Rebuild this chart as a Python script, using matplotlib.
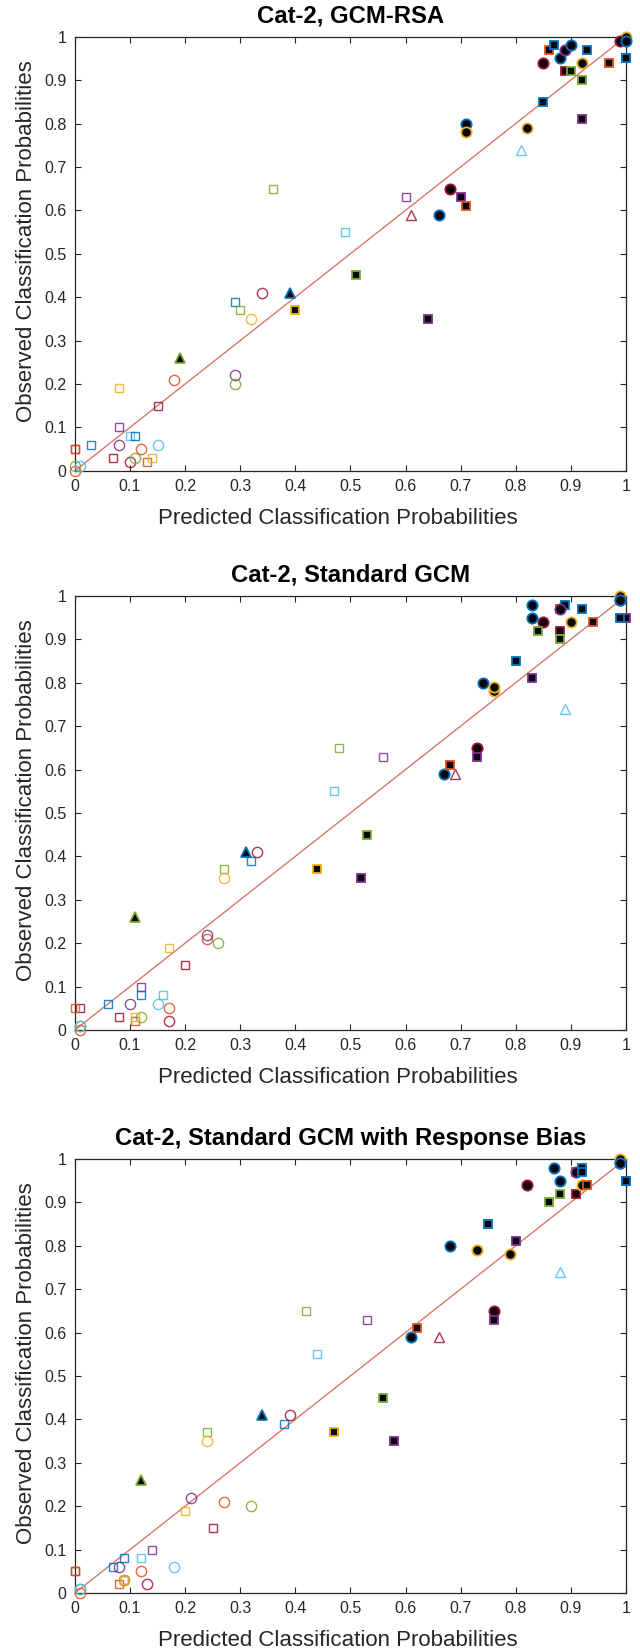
import matplotlib
matplotlib.use("Agg")
import matplotlib.pyplot as plt

plt.rcParams["font.family"] = ["Liberation Sans", "DejaVu Sans"]

# =========================
# Data
# =========================
panel_titles = [
    "Cat-2, GCM-RSA",
    "Cat-2, Standard GCM",
    "Cat-2, Standard GCM with Response Bias",
]
x_label = "Predicted Classification Probabilities"
y_label = "Observed Classification Probabilities"
tick_values = [0, 0.1, 0.2, 0.3, 0.4, 0.5, 0.6, 0.7, 0.8, 0.9, 1]
tick_labels = ["0", "0.1", "0.2", "0.3", "0.4", "0.5", "0.6", "0.7", "0.8", "0.9", "1"]
identity = [0.0, 1.0]

observed = [
    0.05, 0.05, 0.06, 0.03, 0.06, 0.10, 0.19, 0.08, 0.08, 0.02,
    0.03, 0.05, 0.02, 0.03, 0.06, 0.15, 0.21, 0.22, 0.20, 0.39,
    0.37, 0.35, 0.41, 0.01, 0.00, 0.01, 0.55, 0.65, 0.63, 0.59,
    0.74, 0.26, 0.41, 0.37, 0.45, 0.35, 0.59, 0.65, 0.63, 0.61,
    0.80, 0.78, 0.79, 0.85, 0.81, 0.94, 0.97, 0.98, 0.95, 0.97,
    0.98, 0.92, 0.92, 0.94, 0.90, 0.97, 0.94, 0.95, 0.95, 1.00,
    0.99, 0.99,
]
pred_gcm_rsa = [
    0.00, 0.00, 0.03, 0.07, 0.08, 0.08, 0.08, 0.10, 0.11, 0.10,
    0.11, 0.12, 0.13, 0.14, 0.15, 0.15, 0.18, 0.29, 0.29, 0.29,
    0.30, 0.32, 0.34, 0.00, 0.00, 0.01, 0.49, 0.36, 0.60, 0.61,
    0.81, 0.19, 0.39, 0.40, 0.51, 0.64, 0.66, 0.68, 0.70, 0.71,
    0.71, 0.71, 0.82, 0.85, 0.92, 0.85, 0.86, 0.87, 0.88, 0.89,
    0.90, 0.89, 0.90, 0.92, 0.92, 0.93, 0.97, 1.00, 1.00, 1.00,
    0.99, 1.00,
]
pred_standard = [
    0.01, 0.00, 0.06, 0.08, 0.10, 0.12, 0.17, 0.16, 0.12, 0.17,
    0.12, 0.17, 0.11, 0.11, 0.15, 0.20, 0.24, 0.24, 0.26, 0.32,
    0.27, 0.27, 0.33, 0.01, 0.01, 0.01, 0.47, 0.48, 0.56, 0.69,
    0.89, 0.11, 0.31, 0.44, 0.53, 0.52, 0.67, 0.73, 0.73, 0.68,
    0.74, 0.76, 0.76, 0.80, 0.83, 0.85, 0.88, 0.89, 0.83, 0.88,
    0.83, 0.88, 0.84, 0.90, 0.88, 0.92, 0.94, 1.00, 0.99, 0.99,
    0.99, 0.99,
]
pred_bias = [
    0.00, 0.00, 0.07, 0.09, 0.08, 0.14, 0.20, 0.12, 0.09, 0.13,
    0.09, 0.12, 0.08, 0.09, 0.18, 0.25, 0.27, 0.21, 0.32, 0.38,
    0.24, 0.24, 0.39, 0.01, 0.01, 0.01, 0.44, 0.42, 0.53, 0.66,
    0.88, 0.12, 0.34, 0.47, 0.56, 0.58, 0.61, 0.76, 0.76, 0.62,
    0.68, 0.79, 0.73, 0.75, 0.80, 0.82, 0.91, 0.92, 0.88, 0.91,
    0.87, 0.91, 0.88, 0.92, 0.86, 0.92, 0.93, 1.00, 1.00, 0.99,
    0.99, 0.99,
]

# =========================
# Marker styles (one per stimulus)
# =========================
BLUE, ORANGE, YELLOW, PURPLE = "#0072BD", "#D95319", "#EDB120", "#7E2F8E"
GREEN, CYAN, DARKRED = "#77AC30", "#4DBEEE", "#A2142F"

markers = [
    "s", "s", "s", "s", "o", "s", "s", "s", "s", "o",
    "o", "o", "s", "s", "o", "s", "o", "o", "o", "s",
    "s", "o", "o", "o", "o", "o", "s", "s", "s", "^",
    "^", "^", "^", "s", "s", "s", "o", "o", "s", "s",
    "o", "o", "o", "s", "s", "o", "s", "s", "o", "o",
    "o", "s", "s", "o", "s", "s", "s", "s", "s", "o",
    "o", "o",
]
edge_colors = [
    DARKRED, ORANGE, BLUE, DARKRED, PURPLE, PURPLE, YELLOW, CYAN, BLUE, DARKRED,
    GREEN, ORANGE, ORANGE, YELLOW, CYAN, DARKRED, ORANGE, PURPLE, GREEN, BLUE,
    GREEN, YELLOW, DARKRED, GREEN, ORANGE, CYAN, CYAN, GREEN, PURPLE, DARKRED,
    CYAN, GREEN, BLUE, YELLOW, GREEN, PURPLE, BLUE, DARKRED, PURPLE, ORANGE,
    BLUE, YELLOW, YELLOW, BLUE, PURPLE, DARKRED, ORANGE, BLUE, BLUE, PURPLE,
    BLUE, DARKRED, GREEN, YELLOW, GREEN, BLUE, ORANGE, PURPLE, BLUE, YELLOW,
    DARKRED, BLUE,
]
n_hollow = 31  # first 31 stimuli are drawn hollow, the rest filled black

marker_size = {"s": 5.7, "o": 7.4, "^": 7.2}

# figure layout (fractions of 640x1652)
panel_bottoms = [0.7150, 0.3765, 0.0357]
ax_left, ax_width, ax_height = 0.117, 0.861, 0.2628


def draw_panel(ax, predicted, title):
    ax.plot(identity, identity, color="#d9786a", lw=1.0, zorder=2)

    for i, (px, ob) in enumerate(zip(predicted, observed)):
        m = markers[i]
        face = "none" if i < n_hollow else "#05050a"
        ax.plot(
            px, ob, marker=m, ls="none",
            ms=marker_size[m], mfc=face, mec=edge_colors[i],
            mew=1.0 if i < n_hollow else 1.3,
            alpha=0.85 if i < n_hollow else 1.0,
            clip_on=False, zorder=3,
        )

    ax.set_xlim(0, 1)
    ax.set_ylim(0, 1)
    ax.set_xticks(tick_values)
    ax.set_yticks(tick_values)
    ax.set_xticklabels(tick_labels)
    ax.set_yticklabels(tick_labels)
    ax.tick_params(direction="in", top=True, right=True, length=4,
                   width=0.8, labelsize=11.5, colors="#262626", pad=6)
    for sp in ax.spines.values():
        sp.set_color("#262626")
        sp.set_linewidth(0.9)

    ax.set_xlabel(x_label, fontsize=16, color="#262626", labelpad=10)
    ax.set_ylabel(y_label, fontsize=16, color="#262626", labelpad=5)
    # labels sit a little off-centre in the original
    ax.xaxis.label.set_x(0.477)
    ax.yaxis.label.set_y(0.529)
    ax.set_title(title, fontsize=17.2, fontweight="bold", pad=10)


def main():
    fig = plt.figure(figsize=(6.4, 16.52), dpi=100)
    preds = [pred_gcm_rsa, pred_standard, pred_bias]
    for bottom, pred, title in zip(panel_bottoms, preds, panel_titles):
        ax = fig.add_axes([ax_left, bottom, ax_width, ax_height])
        draw_panel(ax, pred, title)

    fig.savefig("out.png", dpi=100)
    plt.close(fig)


if __name__ == "__main__":
    main()
